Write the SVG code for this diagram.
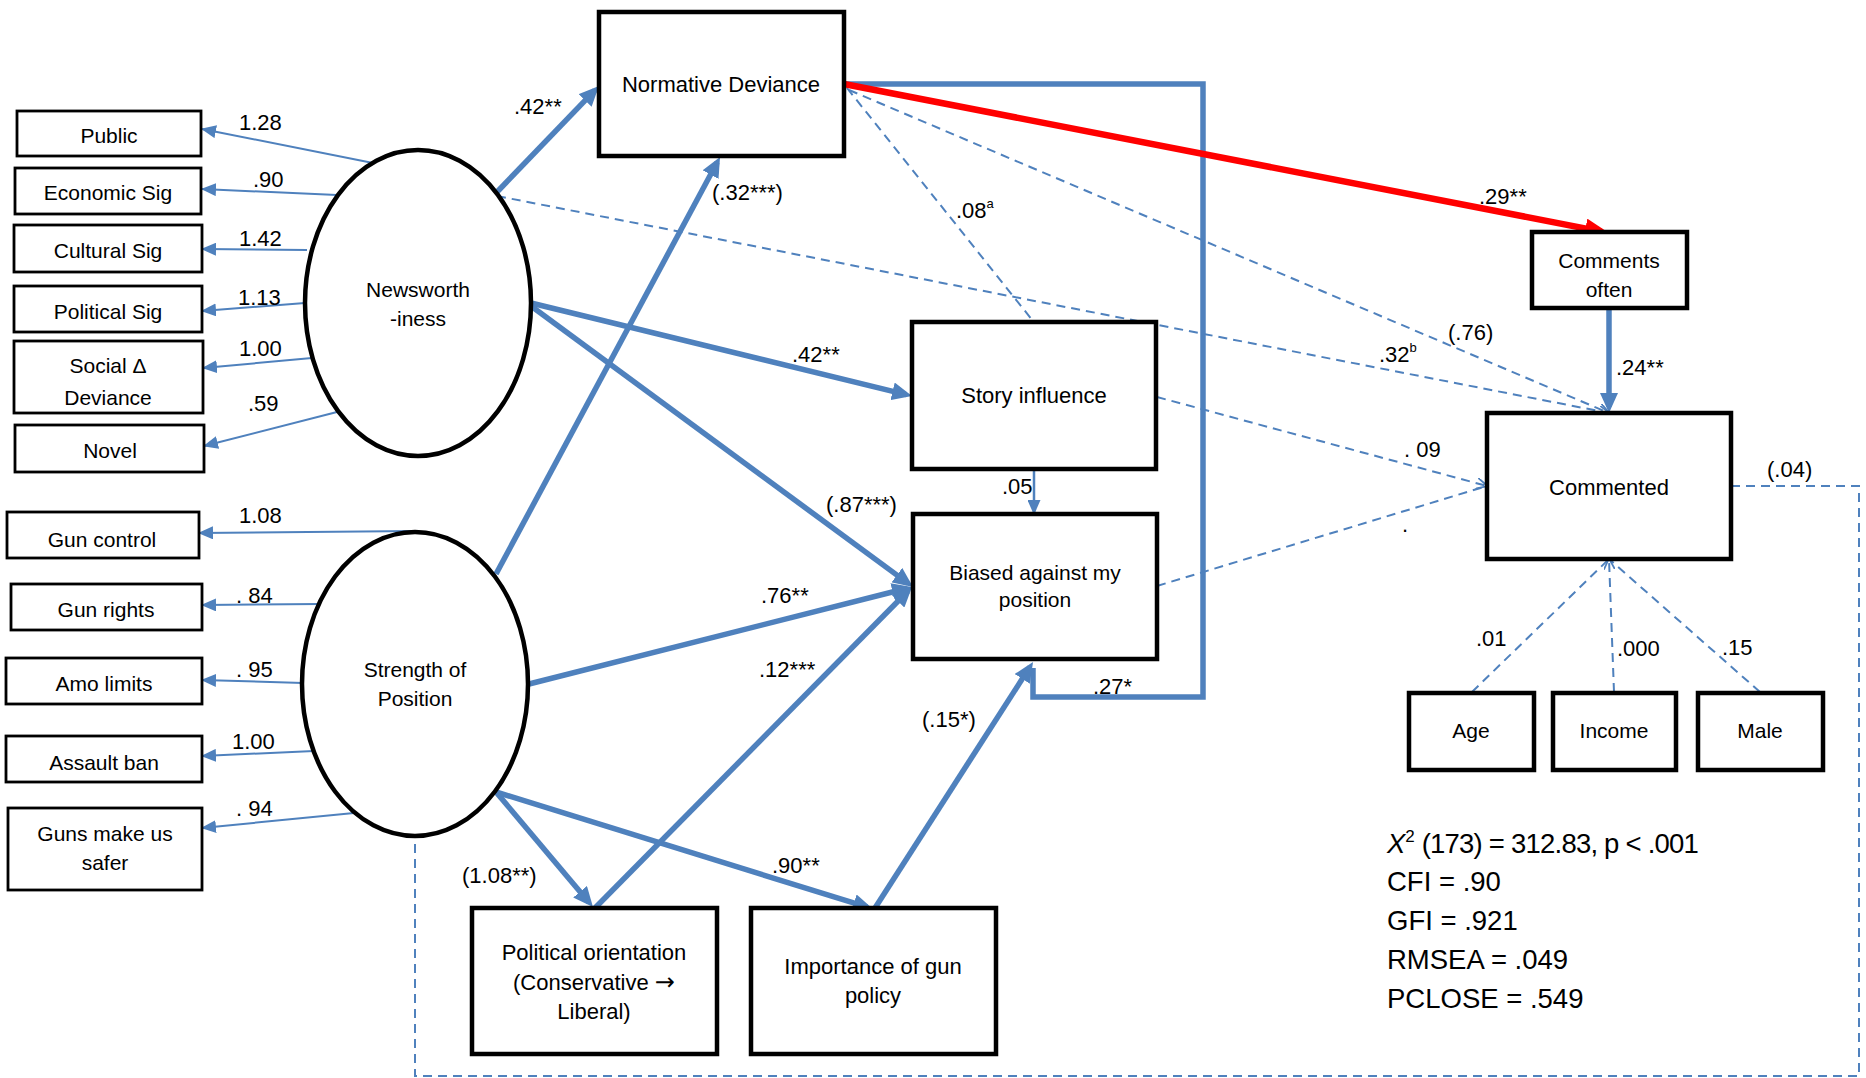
<svg xmlns="http://www.w3.org/2000/svg" width="1866" height="1078" viewBox="0 0 1866 1078">
<style>
.bg{fill:#ffffff}
.box{fill:#ffffff;stroke:#000000;stroke-width:4.5}
.sbox{fill:#ffffff;stroke:#000000;stroke-width:2.8}
.ell{fill:#ffffff;stroke:#000000;stroke-width:4.5}
.t{font-family:"Liberation Sans",Arial,sans-serif;font-size:22px;fill:#000000;text-anchor:middle}
.ts{font-family:"Liberation Sans",Arial,sans-serif;font-size:21px;fill:#000000;text-anchor:middle}
.l{font-family:"Liberation Sans",Arial,sans-serif;font-size:22px;fill:#000000}
.stat{font-family:"Liberation Sans",Arial,sans-serif;font-size:27.5px;fill:#000000}
.thick{fill:none;stroke:#4f81bd;stroke-width:5.5;stroke-linejoin:miter}
.thin{fill:none;stroke:#4f81bd;stroke-width:2}
.dash{fill:none;stroke:#4f81bd;stroke-width:2;stroke-dasharray:9 6}
.red{fill:none;stroke:#ff0000;stroke-width:6.5}
</style>
<defs>
<marker id="ahThick" viewBox="0 0 20 18" refX="14" refY="9" markerWidth="20" markerHeight="18" markerUnits="userSpaceOnUse" orient="auto"><path d="M0,0 L20,9 L0,18 z" fill="#4f81bd"/></marker>
<marker id="ahRed" viewBox="0 0 24 20" refX="16.5" refY="10" markerWidth="24" markerHeight="20" markerUnits="userSpaceOnUse" orient="auto"><path d="M0,0 L24,10 L0,20 z" fill="#ff0000"/></marker>
<marker id="ahThin" viewBox="0 0 15 13" refX="14" refY="6.5" markerWidth="15" markerHeight="13" markerUnits="userSpaceOnUse" orient="auto"><path d="M0,0 L15,6.5 L0,13 z" fill="#4f81bd"/></marker>
<marker id="ahOpen" viewBox="0 0 10 10" refX="9.5" refY="5" markerWidth="11" markerHeight="11" markerUnits="userSpaceOnUse" orient="auto"><path d="M0,0 L10,5 L0,10" fill="none" stroke="#4f81bd" stroke-width="1.6"/></marker>
</defs>
<rect class="bg" x="0" y="0" width="1866" height="1078"/>

<g id="connectors">
  <line class="thin" x1="373" y1="163" x2="202" y2="129" marker-end="url(#ahThin)"/>
  <line class="thin" x1="337" y1="195" x2="202" y2="189" marker-end="url(#ahThin)"/>
  <line class="thin" x1="307" y1="250" x2="202" y2="249" marker-end="url(#ahThin)"/>
  <line class="thin" x1="305" y1="303" x2="202" y2="311" marker-end="url(#ahThin)"/>
  <line class="thin" x1="312" y1="358" x2="203" y2="368" marker-end="url(#ahThin)"/>
  <line class="thin" x1="337" y1="412" x2="204" y2="446" marker-end="url(#ahThin)"/>
  <line class="thin" x1="416" y1="531" x2="199" y2="533" marker-end="url(#ahThin)"/>
  <line class="thin" x1="321" y1="604" x2="202" y2="605" marker-end="url(#ahThin)"/>
  <line class="thin" x1="303" y1="683" x2="202" y2="680" marker-end="url(#ahThin)"/>
  <line class="thin" x1="314" y1="751" x2="202" y2="756" marker-end="url(#ahThin)"/>
  <line class="thin" x1="354" y1="813" x2="202" y2="828" marker-end="url(#ahThin)"/>

  <line class="dash" x1="847" y1="88" x2="1033" y2="321"/>
  <line class="dash" x1="849" y1="90" x2="1609" y2="413" marker-end="url(#ahOpen)"/>
  <line class="dash" x1="497" y1="196" x2="1609" y2="413" marker-end="url(#ahOpen)"/>
  <line class="dash" x1="1157" y1="397" x2="1487" y2="486" marker-end="url(#ahOpen)"/>
  <line class="dash" x1="1157" y1="586" x2="1487" y2="486"/>
  <line class="dash" x1="1472" y1="692" x2="1609" y2="559"/>
  <line class="dash" x1="1614" y1="692" x2="1609" y2="559" marker-end="url(#ahOpen)"/>
  <line class="dash" x1="1760" y1="692" x2="1609" y2="559"/>
  <path class="dash" d="M1731,486 H1859 V1076 H415 V836"/>

  <line class="thick" x1="497" y1="192" x2="594.8" y2="90.3" marker-end="url(#ahThick)"/>
  <line class="thick" x1="496" y1="574" x2="717.2" y2="162.3" marker-end="url(#ahThick)"/>
  <line class="thick" x1="531" y1="303" x2="906.2" y2="394.6" marker-end="url(#ahThick)"/>
  <line class="thick" x1="531" y1="306" x2="908.2" y2="583.4" marker-end="url(#ahThick)"/>
  <line class="thick" x1="529" y1="684" x2="906.2" y2="588.5" marker-end="url(#ahThick)"/>
  <line class="thick" x1="496" y1="792" x2="589.1" y2="902.4" marker-end="url(#ahThick)"/>
  <line class="thick" x1="496" y1="792" x2="867.3" y2="907.2" marker-end="url(#ahThick)"/>
  <line class="thick" x1="595" y1="908" x2="907.8" y2="591.3" marker-end="url(#ahThick)"/>
  <path class="thick" d="M844,84 H1203 V697 H1033 V668"/>
  <line class="thick" x1="875" y1="908" x2="1029.8" y2="667.1" marker-end="url(#ahThick)"/>
  <line class="thin" style="stroke-width:2.5" x1="1034" y1="469" x2="1034" y2="514" marker-end="url(#ahThin)"/>
  <line class="thick" x1="1609" y1="308" x2="1609" y2="407" marker-end="url(#ahThick)"/>
  <line class="red" x1="844" y1="84" x2="1601.6" y2="231.6" marker-end="url(#ahRed)"/>
</g>

<g id="node-public"><rect class="sbox" x="17" y="111" width="184" height="45"/><text class="ts" x="109" y="143">Public</text></g>
<g id="node-economic"><rect class="sbox" x="15" y="168" width="186" height="46"/><text class="ts" x="108" y="200">Economic Sig</text></g>
<g id="node-cultural"><rect class="sbox" x="14" y="225" width="188" height="47"/><text class="ts" x="108" y="258">Cultural Sig</text></g>
<g id="node-political-sig"><rect class="sbox" x="14" y="286" width="188" height="46"/><text class="ts" x="108" y="319">Political Sig</text></g>
<g id="node-social"><rect class="sbox" x="14" y="341" width="189" height="72"/><text class="ts" x="108" y="373">Social Δ</text><text class="ts" x="108" y="405">Deviance</text></g>
<g id="node-novel"><rect class="sbox" x="15" y="425" width="189" height="47"/><text class="ts" x="110" y="458">Novel</text></g>

<g id="node-gun-control"><rect class="sbox" x="7" y="512" width="192" height="46"/><text class="ts" x="102" y="547">Gun control</text></g>
<g id="node-gun-rights"><rect class="sbox" x="11" y="584" width="191" height="46"/><text class="ts" x="106" y="617">Gun rights</text></g>
<g id="node-amo"><rect class="sbox" x="6" y="658" width="196" height="46"/><text class="ts" x="104" y="691">Amo limits</text></g>
<g id="node-assault"><rect class="sbox" x="6" y="736" width="196" height="46"/><text class="ts" x="104" y="770">Assault ban</text></g>
<g id="node-guns-safer"><rect class="sbox" x="8" y="808" width="194" height="82"/><text class="ts" x="105" y="841">Guns make us</text><text class="ts" x="105" y="870">safer</text></g>

<g id="node-newsworthiness"><ellipse class="ell" cx="418" cy="303" rx="113" ry="153"/><text class="ts" x="418" y="297">Newsworth</text><text class="ts" x="418" y="326">-iness</text></g>
<g id="node-strength"><ellipse class="ell" cx="415" cy="684" rx="113" ry="152"/><text class="ts" x="415" y="677">Strength of</text><text class="ts" x="415" y="706">Position</text></g>

<g id="node-normative"><rect class="box" x="599" y="12" width="245" height="144"/><text class="t" x="721" y="92">Normative Deviance</text></g>
<g id="node-story"><rect class="box" x="912" y="322" width="244" height="147"/><text class="t" x="1034" y="403">Story influence</text></g>
<g id="node-biased"><rect class="box" x="913" y="514" width="244" height="145"/><text class="ts" x="1035" y="580">Biased against my</text><text class="ts" x="1035" y="607">position</text></g>
<g id="node-comments-often"><rect class="box" x="1532" y="232" width="155" height="76"/><text class="ts" x="1609" y="268">Comments</text><text class="ts" x="1609" y="297">often</text></g>
<g id="node-commented"><rect class="box" x="1487" y="413" width="244" height="146"/><text class="t" x="1609" y="495">Commented</text></g>
<g id="node-age"><rect class="box" x="1409" y="693" width="125" height="77"/><text class="ts" x="1471" y="738">Age</text></g>
<g id="node-income"><rect class="box" x="1553" y="693" width="123" height="77"/><text class="ts" x="1614" y="738">Income</text></g>
<g id="node-male"><rect class="box" x="1698" y="693" width="125" height="77"/><text class="ts" x="1760" y="738">Male</text></g>
<g id="node-political-orientation"><rect class="box" x="472" y="908" width="245" height="146"/><text class="t" x="594" y="960">Political orientation</text><text class="t" x="594" y="990">(Conservative <tspan font-family="'DejaVu Sans',sans-serif" font-size="24">→</tspan></text><text class="t" x="594" y="1019">Liberal)</text></g>
<g id="node-importance"><rect class="box" x="751" y="908" width="245" height="146"/><text class="t" x="873" y="974">Importance of gun</text><text class="t" x="873" y="1003">policy</text></g>

<g id="labels">
  <text class="l" x="239" y="130">1.28</text>
  <text class="l" x="253" y="187">.90</text>
  <text class="l" x="239" y="246">1.42</text>
  <text class="l" x="238" y="305">1.13</text>
  <text class="l" x="239" y="356">1.00</text>
  <text class="l" x="248" y="411">.59</text>
  <text class="l" x="239" y="523">1.08</text>
  <text class="l" x="236" y="603">. 84</text>
  <text class="l" x="236" y="677">. 95</text>
  <text class="l" x="232" y="749">1.00</text>
  <text class="l" x="236" y="816">. 94</text>
  <text class="l" x="514" y="114">.42**</text>
  <text class="l" x="712" y="200">(.32***)</text>
  <text class="l" x="956" y="218">.08<tspan dy="-10" font-size="13">a</tspan></text>
  <text class="l" x="792" y="362">.42**</text>
  <text class="l" x="826" y="512">(.87***)</text>
  <text class="l" x="761" y="603">.76**</text>
  <text class="l" x="759" y="677">.12***</text>
  <text class="l" x="922" y="727">(.15*)</text>
  <text class="l" x="462" y="883">(1.08**)</text>
  <text class="l" x="772" y="873">.90**</text>
  <text class="l" x="1002" y="494">.05</text>
  <text class="l" x="1093" y="694">.27*</text>
  <text class="l" x="1479" y="204">.29**</text>
  <text class="l" x="1616" y="375">.24**</text>
  <text class="l" x="1448" y="340">(.76)</text>
  <text class="l" x="1379" y="362">.32<tspan dy="-10" font-size="13">b</tspan></text>
  <text class="l" x="1404" y="457">. 09</text>
  <text class="l" x="1402" y="532">.</text>
  <text class="l" x="1767" y="477">(.04)</text>
  <text class="l" x="1476" y="646">.01</text>
  <text class="l" x="1617" y="656">.000</text>
  <text class="l" x="1722" y="655">.15</text>
</g>

<g id="fit-stats">
  <text class="stat" x="1387" y="853"><tspan font-style="italic">X</tspan><tspan dy="-11" font-size="17">2</tspan><tspan dy="11" textLength="284" lengthAdjust="spacing"> (173) = 312.83, p &lt; .001</tspan></text>
  <text class="stat" x="1387" y="891">CFI = .90</text>
  <text class="stat" x="1387" y="930">GFI = .921</text>
  <text class="stat" x="1387" y="969">RMSEA = .049</text>
  <text class="stat" x="1387" y="1008">PCLOSE = .549</text>
</g>
</svg>
